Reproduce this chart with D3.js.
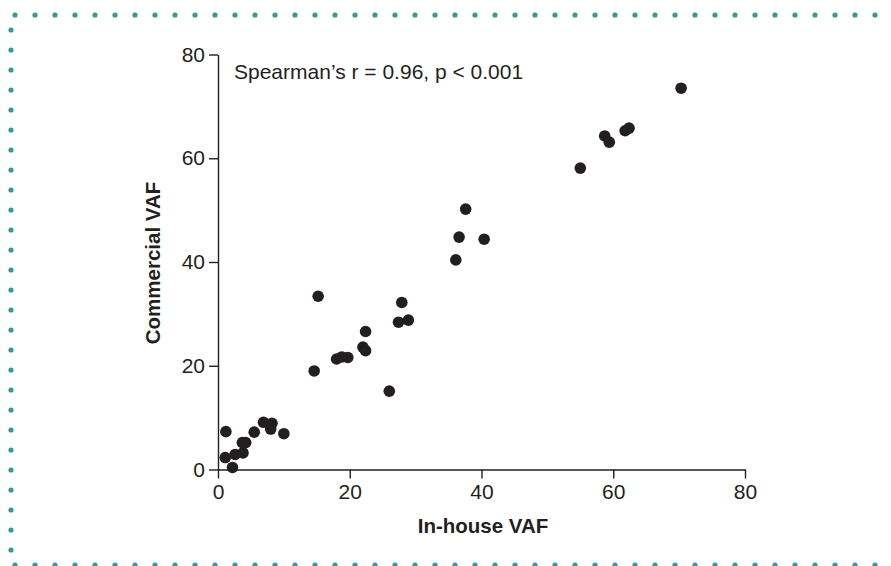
<!DOCTYPE html>
<html>
<head>
<meta charset="utf-8">
<script src="https://cdn.jsdelivr.net/npm/d3@7"></script>
<style>
  body { margin: 0; background: #fff; }
  svg { display: block; font-family: "Liberation Sans", Arial, sans-serif; }
</style>
</head>
<body>
<div id="chart"></div>
<script>
// values (in-house VAF vs commercial VAF)
const inHouse = [70.3, 62.4, 61.8, 58.7, 59.4, 55.0, 37.6, 36.6, 40.4, 36.1,
  15.2, 27.9, 28.9, 27.4, 22.4, 22.0, 22.4, 19.7, 18.8, 18.0,
  14.6, 26.0, 1.2, 5.5, 6.9, 8.2, 8.0, 10.0, 3.7, 4.2,
  3.8, 1.1, 2.6, 2.2];
const commercial = [73.5, 65.8, 65.3, 64.3, 63.1, 58.1, 50.2, 44.8, 44.4, 40.4,
  33.4, 32.2, 28.8, 28.4, 26.6, 23.6, 22.9, 21.6, 21.7, 21.3,
  19.0, 15.1, 7.3, 7.2, 9.1, 8.9, 7.8, 6.9, 5.2, 5.2,
  3.2, 2.3, 2.9, 0.4];
const xTicks = [0, 20, 40, 60, 80];
const yTicks = [0, 20, 40, 60, 80];
const note = "Spearman\u2019s r = 0.96, p < 0.001";

const width = 891, height = 566;
const teal = '#2b9e9b';
const ink = '#231f20';

const svg = d3.select('#chart')
  .append('svg')
  .attr('width', width)
  .attr('height', height);

// dotted frame (top and left, bottom row cut at the edge)
const frame = svg.append('g');
frame.selectAll('.top').data(d3.range(15, 891, 20)).join('circle')
  .attr('cx', d => d).attr('cy', 15).attr('r', 2.6).attr('fill', teal);
frame.selectAll('.left').data(d3.range(30, 560, 20)).join('circle')
  .attr('cx', 11).attr('cy', d => d).attr('r', 2.6).attr('fill', teal);
frame.selectAll('.bottom').data(d3.range(15, 891, 20)).join('circle')
  .attr('cx', d => d).attr('cy', 565).attr('r', 2.6).attr('fill', teal);

const x = d3.scaleLinear().domain([0, 80]).range([218, 745]);
const y = d3.scaleLinear().domain([0, 80]).range([469.5, 54.5]);

const xAxis = svg.append('g')
  .attr('transform', `translate(0,${y(0)})`)
  .call(d3.axisBottom(x).tickValues(xTicks).tickSize(9).tickSizeOuter(0).tickPadding(6));

const yAxis = svg.append('g')
  .attr('transform', `translate(${x(0)},0)`)
  .call(d3.axisLeft(y).tickValues(yTicks).tickSize(9).tickSizeOuter(0).tickPadding(4));

[xAxis, yAxis].forEach(g => {
  g.selectAll('path, line').attr('stroke', ink).attr('stroke-width', 1.4);
  g.selectAll('text')
    .attr('fill', ink)
    .style('font-size', '21px')
    .style('font-family', '"Liberation Sans", Arial, sans-serif');
});

// points
svg.append('g')
  .selectAll('circle')
  .data(inHouse.map((v, i) => ({ x: v, y: commercial[i] })))
  .join('circle')
  .attr('cx', d => x(d.x))
  .attr('cy', d => y(d.y))
  .attr('r', 5.8)
  .attr('fill', ink);

svg.append('text')
  .attr('x', 234)
  .attr('y', 79)
  .attr('fill', ink)
  .style('font-size', '21px')
  .text(note);

svg.append('text')
  .attr('x', 483)
  .attr('y', 533)
  .attr('text-anchor', 'middle')
  .attr('fill', ink)
  .style('font-size', '20.5px')
  .style('font-weight', 'bold')
  .text('In-house VAF');

svg.append('text')
  .attr('transform', `translate(160,263) rotate(-90)`)
  .attr('text-anchor', 'middle')
  .attr('fill', ink)
  .style('font-size', '20.5px')
  .style('font-weight', 'bold')
  .text('Commercial VAF');
</script>
</body>
</html>
